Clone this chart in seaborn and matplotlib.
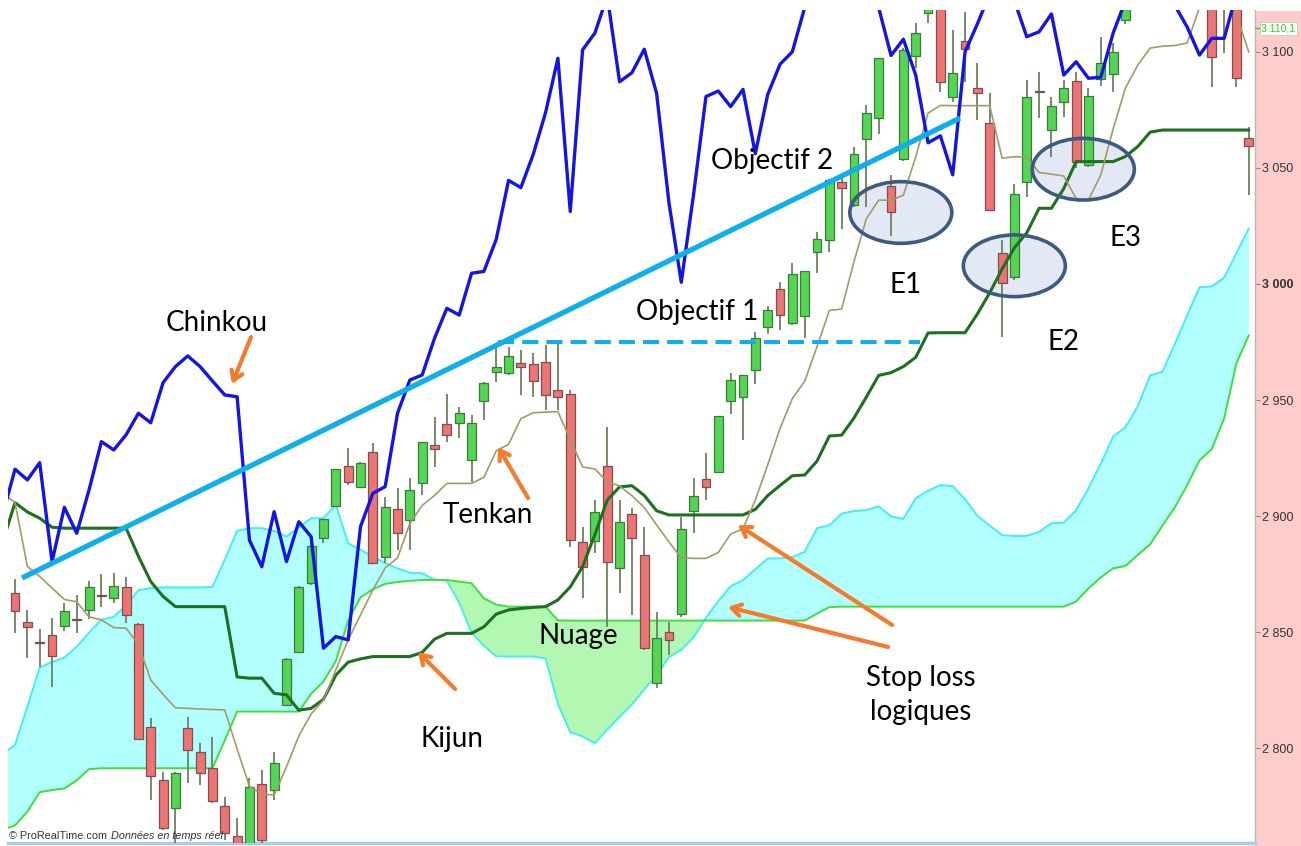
import numpy as np
import pandas as pd
import matplotlib
matplotlib.use("Agg")
import matplotlib.pyplot as plt
import seaborn as sns
from matplotlib.patches import Ellipse, Rectangle

# ---------------- data ----------------
opens = [2866.8, 2854.3, 2845.9, 2848.8, 2852.8, 2855.5, 2859.6, 2866.0, 2864.6, 2869.3,
         2853.4, 2809.3, 2786.4, 2774.2, 2808.6, 2798.3, 2791.7, 2775.2, 2762.0, 2757.0,
         2784.5, 2782.1, 2818.7, 2841.6, 2871.3, 2890.5, 2904.4, 2921.6, 2912.7, 2927.8,
         2882.5, 2903.0, 2898.3, 2914.1, 2930.6, 2939.6, 2940.2, 2924.2, 2949.7, 2962.2,
         2961.5, 2965.8, 2965.4, 2966.3, 2954.3, 2952.5, 2888.9, 2889.4, 2921.7, 2877.5,
         2900.8, 2883.3, 2828.0, 2850.2, 2857.9, 2902.3, 2915.9, 2919.1, 2949.6, 2951.5,
         2963.0, 2981.5, 2998.0, 2983.0, 2986.1, 3013.8, 3018.9, 3044.1, 3033.8, 3062.6,
         3071.5, 3042.0, 3053.8, 3098.4, 3116.8, 3126.0, 3080.7, 3104.6, 3084.3, 3069.5,
         3013.2, 3002.9, 3044.0, 3083.2, 3066.3, 3078.5, 3087.4, 3051.2, 3088.3, 3090.4,
         3113.7, 3128.0, 3135.0, 3142.0, 3138.0, 3146.0, 3140.0, 3125.0, 3122.0, 3121.0, 3062.7]
highs = [2873.0, 2859.6, 2851.3, 2856.3, 2862.5, 2866.1, 2872.1, 2875.0, 2875.6, 2873.9,
         2854.1, 2812.9, 2789.9, 2789.9, 2813.6, 2802.2, 2805.0, 2779.2, 2769.9, 2787.1,
         2790.7, 2798.6, 2838.8, 2869.8, 2887.7, 2898.8, 2920.5, 2929.5, 2923.4, 2931.4,
         2908.4, 2912.0, 2916.3, 2932.0, 2942.8, 2952.5, 2946.9, 2943.6, 2957.9, 2973.0,
         2973.0, 2971.6, 2970.1, 2973.7, 2974.4, 2954.3, 2895.5, 2907.0, 2938.5, 2907.0,
         2903.4, 2895.5, 2858.8, 2854.5, 2899.8, 2916.3, 2927.1, 2943.2, 2961.5, 2960.7,
         2979.2, 2990.7, 3000.7, 3009.2, 3005.6, 3022.3, 3045.4, 3046.9, 3059.2, 3076.9,
         3097.2, 3046.9, 3101.5, 3112.3, 3132.0, 3130.0, 3109.4, 3117.3, 3095.0, 3082.1,
         3019.0, 3043.1, 3087.9, 3091.4, 3080.7, 3087.9, 3091.4, 3084.3, 3106.5, 3103.6,
         3135.0, 3140.0, 3148.0, 3150.0, 3152.0, 3155.0, 3148.0, 3130.0, 3130.0, 3128.0, 3067.7]
lows = [2849.6, 2838.8, 2835.0, 2826.5, 2850.7, 2849.5, 2855.7, 2861.0, 2862.7, 2853.8,
        2803.6, 2777.7, 2764.8, 2758.0, 2785.0, 2784.2, 2776.3, 2760.5, 2755.0, 2755.0,
        2759.0, 2777.8, 2818.0, 2840.9, 2870.3, 2888.3, 2904.0, 2913.4, 2912.0, 2879.7,
        2879.7, 2885.4, 2885.4, 2909.1, 2921.3, 2932.1, 2933.5, 2914.8, 2941.4, 2957.9,
        2960.8, 2952.2, 2951.4, 2945.7, 2945.7, 2886.8, 2864.6, 2884.0, 2852.4, 2866.8,
        2857.4, 2842.4, 2825.8, 2840.2, 2856.7, 2892.6, 2907.0, 2919.0, 2943.8, 2933.0,
        2956.9, 2978.4, 2980.0, 2982.2, 2976.9, 3004.6, 3013.8, 3023.8, 3033.1, 3033.1,
        3064.6, 3020.7, 3053.0, 3093.1, 3112.3, 3082.8, 3078.5, 3087.1, 3070.6, 3031.9,
        2977.3, 3001.7, 3037.6, 3071.3, 3054.8, 3072.0, 3049.8, 3050.5, 3085.3, 3082.8,
        3112.0, 3122.0, 3128.0, 3130.0, 3132.0, 3135.0, 3125.0, 3084.7, 3099.3, 3084.7, 3038.3]
closes = [2859.1, 2852.4, 2845.4, 2839.7, 2859.1, 2855.2, 2869.3, 2865.6, 2869.9, 2857.4,
          2804.0, 2788.1, 2765.6, 2789.2, 2799.3, 2789.5, 2777.3, 2763.4, 2758.0, 2783.2,
          2760.5, 2793.6, 2838.4, 2869.3, 2887.3, 2898.8, 2920.2, 2914.8, 2923.0, 2879.7,
          2903.8, 2892.6, 2911.3, 2931.8, 2929.0, 2935.0, 2944.3, 2940.2, 2957.5, 2964.4,
          2969.0, 2964.4, 2958.2, 2952.2, 2951.4, 2889.7, 2878.2, 2901.7, 2880.4, 2897.6,
          2890.7, 2843.1, 2847.4, 2846.7, 2894.3, 2908.7, 2912.7, 2943.0, 2958.7, 2960.7,
          2976.9, 2988.7, 2986.6, 3004.1, 3005.4, 3019.2, 3044.6, 3041.5, 3055.8, 3073.8,
          3097.2, 3031.2, 3100.8, 3108.1, 3126.0, 3087.1, 3091.0, 3101.1, 3082.1, 3031.9,
          3000.5, 3038.7, 3080.7, 3082.8, 3076.6, 3084.3, 3052.4, 3081.1, 3095.0, 3100.0,
          3128.0, 3135.0, 3142.0, 3138.0, 3146.0, 3140.0, 3130.0, 3097.9, 3128.0, 3088.8, 3059.4]

# indicator lines, period -1 .. 100
tenkan = [2910.0,
          2905.8, 2878.3, 2874.0, 2869.0, 2864.1, 2863.1, 2856.6, 2855.3, 2852.0, 2851.7,
          2844.7, 2829.4, 2823.2, 2817.4, 2817.2, 2816.9, 2816.7, 2816.5, 2799.7, 2783.6,
          2780.3, 2779.9, 2792.0, 2805.3, 2814.8, 2820.8, 2833.7, 2846.7, 2857.4, 2868.2,
          2877.7, 2882.0, 2896.8, 2904.6, 2908.9, 2914.1, 2914.1, 2914.1, 2916.7, 2928.1,
          2930.9, 2942.0, 2944.5, 2944.8, 2945.0, 2933.0, 2921.2, 2920.3, 2914.9, 2913.0,
          2908.8, 2903.7, 2896.2, 2888.9, 2882.0, 2881.8, 2881.8, 2884.3, 2892.3, 2894.5,
          2906.9, 2922.0, 2937.7, 2950.6, 2958.1, 2973.0, 2988.6, 2989.2, 3009.7, 3028.1,
          3036.1, 3036.1, 3038.2, 3054.7, 3073.6, 3076.9, 3076.8, 3076.8, 3076.8, 3076.8,
          3054.2, 3054.8, 3054.7, 3048.0, 3047.3, 3046.5, 3036.8, 3036.2, 3046.9, 3066.7,
          3084.4, 3094.3, 3101.6, 3102.4, 3102.7, 3103.8, 3119.0, 3124.0, 3122.0, 3115.8, 3099.9]
kijun = [2889.0,
         2905.8, 2901.8, 2899.1, 2895.2, 2894.8, 2894.8, 2894.8, 2894.8, 2894.8, 2894.8,
         2882.7, 2871.8, 2865.4, 2861.0, 2861.0, 2861.0, 2861.0, 2861.0, 2830.7, 2830.2,
         2830.2, 2823.7, 2823.0, 2816.4, 2817.2, 2821.1, 2831.5, 2837.1, 2838.5, 2839.5,
         2839.5, 2839.5, 2839.5, 2841.3, 2847.0, 2849.5, 2849.5, 2849.5, 2852.3, 2857.8,
         2859.6, 2860.2, 2860.7, 2861.0, 2863.9, 2869.5, 2878.2, 2892.1, 2906.9, 2912.6,
         2913.1, 2908.9, 2902.3, 2900.5, 2900.5, 2900.5, 2900.5, 2900.5, 2900.5, 2900.5,
         2902.9, 2908.8, 2913.2, 2917.4, 2917.7, 2923.7, 2934.5, 2934.9, 2942.3, 2951.3,
         2960.6, 2961.8, 2964.4, 2968.4, 2978.9, 2979.0, 2979.0, 2979.0, 2987.1, 2996.2,
         3006.4, 3015.6, 3022.0, 3032.6, 3032.6, 3041.1, 3052.7, 3052.7, 3052.7, 3052.7,
         3054.9, 3059.2, 3065.4, 3066.3, 3066.3, 3066.3, 3066.3, 3066.3, 3066.3, 3066.3, 3066.3]
senkou_a = [2797.7,
            2801.4, 2818.0, 2834.8, 2837.1, 2839.1, 2843.8, 2849.8, 2855.4, 2856.6, 2861.5,
            2868.1, 2869.0, 2869.3, 2869.3, 2869.3, 2869.3, 2869.5, 2881.2, 2893.6, 2894.8,
            2894.8, 2893.6, 2891.2, 2895.1, 2899.1, 2899.1, 2905.0, 2888.3, 2885.5, 2882.6,
            2879.7, 2877.5, 2875.6, 2875.4, 2872.6, 2872.2, 2862.7, 2849.8, 2844.1, 2839.6,
            2839.5, 2839.5, 2839.5, 2838.7, 2819.2, 2806.9, 2805.1, 2802.2, 2808.1, 2813.5,
            2818.9, 2825.3, 2831.6, 2839.3, 2842.4, 2847.8, 2856.2, 2863.4, 2869.8, 2872.4,
            2877.1, 2881.7, 2881.8, 2882.4, 2884.6, 2894.8, 2896.1, 2901.1, 2902.2, 2902.6,
            2904.2, 2899.9, 2898.8, 2907.7, 2910.9, 2913.4, 2912.9, 2907.3, 2900.2, 2895.9,
            2891.8, 2891.4, 2891.5, 2893.2, 2896.9, 2897.2, 2902.5, 2912.0, 2922.5, 2934.2,
            2938.3, 2947.3, 2960.6, 2962.2, 2974.1, 2986.5, 2998.6, 2998.9, 3002.7, 3013.3, 3023.9]
senkou_b = [2764.9,
            2766.8, 2772.7, 2781.1, 2782.0, 2782.7, 2786.2, 2791.0, 2791.4, 2791.4, 2791.4,
            2791.4, 2791.4, 2791.4, 2791.4, 2791.4, 2791.4, 2791.4, 2803.4, 2815.8, 2815.8,
            2815.8, 2815.8, 2815.8, 2815.8, 2823.5, 2828.8, 2837.5, 2855.0, 2865.0, 2868.5,
            2870.8, 2871.6, 2872.1, 2872.5, 2872.5, 2872.5, 2871.8, 2871.1, 2864.6, 2861.9,
            2861.0, 2861.0, 2861.0, 2861.0, 2855.1, 2855.0, 2855.0, 2855.0, 2855.0, 2855.0,
            2855.0, 2855.0, 2855.0, 2855.0, 2855.0, 2855.0, 2855.0, 2855.0, 2855.0, 2855.0,
            2855.0, 2855.0, 2855.0, 2855.0, 2855.0, 2858.0, 2860.8, 2861.0, 2861.0, 2861.0,
            2861.0, 2861.0, 2861.0, 2861.0, 2861.0, 2861.0, 2861.0, 2861.0, 2861.0, 2861.0,
            2861.0, 2861.0, 2861.0, 2861.0, 2861.0, 2861.0, 2863.2, 2868.8, 2873.6, 2877.5,
            2878.5, 2883.3, 2887.8, 2895.9, 2903.8, 2913.3, 2924.0, 2928.9, 2942.1, 2965.9, 2977.9]
# chinkou, period -1 .. 99
chinkou = [2900.7,
           2920.2, 2915.6, 2923.0, 2880.4, 2903.8, 2892.6, 2911.3, 2932.1, 2928.5, 2935.0,
           2944.3, 2940.2, 2957.5, 2964.4, 2969.0, 2964.4, 2958.2, 2952.2, 2951.4, 2889.7,
           2878.2, 2901.9, 2880.4, 2897.6, 2891.1, 2843.1, 2848.1, 2846.7, 2895.5, 2909.8,
           2912.7, 2944.3, 2958.6, 2960.8, 2976.6, 2989.5, 2986.6, 3004.6, 3005.4, 3019.2,
           3044.6, 3041.5, 3055.8, 3073.8, 3097.2, 3031.2, 3100.8, 3108.1, 3124.0, 3087.1,
           3091.0, 3101.1, 3082.1, 3035.0, 3000.7, 3038.7, 3080.7, 3083.1, 3076.4, 3083.8,
           3056.1, 3081.5, 3094.6, 3100.0, 3119.0, 3125.0, 3128.0, 3130.0, 3128.0, 3124.0,
           3119.0, 3098.4, 3105.4, 3090.0, 3060.8, 3063.8, 3047.0, 3100.0, 3112.0, 3125.0,
           3128.0, 3122.0, 3106.5, 3108.6, 3116.3, 3090.0, 3095.7, 3088.6, 3089.0, 3108.0,
           3122.0, 3128.0, 3130.0, 3128.0, 3120.0, 3110.7, 3098.6, 3105.8, 3105.8, 3125.0]

price_ticks = [2800, 2850, 2900, 2950, 3000, 3050, 3100]
last_price = 3110.1
last_price_label = "3 110,1"

# ---------------- styling ----------------
sns.set_theme(style="white")
plt.rcParams['font.family'] = ['Lato', 'DejaVu Sans']
NARROW = ['Liberation Sans Narrow', 'Liberation Sans', 'DejaVu Sans']

W, H = 1301, 846
fig = plt.figure(figsize=(W / 100, H / 100), dpi=100)
fig.patch.set_facecolor('white')
# pink price-scale panel (behind the axes and its labels)
fig.patches.append(Rectangle((1255 / W, 0), 1 - 1255 / W, (H - 11) / H,
                             transform=fig.transFigure, facecolor='#FFCCCC',
                             edgecolor='none', zorder=-5))
ax = fig.add_axes([8 / W, 3 / H, (1255 - 8) / W, (843 - 10) / H])
ax.set_facecolor('white')
ax.set_xlim(-0.57, 100.5)
ax.set_ylim(2759.2, 3118.0)


def P(px, py):
    """convert a reference-picture pixel position to data coordinates"""
    return ((px - 15) / 12.338, 3122.3 - 0.4307 * py)


lx = np.arange(-1, 101)
cx = np.arange(len(opens))
sa = np.array(senkou_a)
sb = np.array(senkou_b)

# cloud
ax.fill_between(lx, sa, sb, where=sa >= sb, interpolate=True,
                color='#B2FFFF', lw=0, zorder=1)
ax.fill_between(lx, sa, sb, where=sb > sa, interpolate=True,
                color='#B2F8B2', lw=0, zorder=1)
sns.lineplot(x=lx, y=sa, ax=ax, color='#45EEEE', lw=1.4, zorder=2)
sns.lineplot(x=lx, y=sb, ax=ax, color='#3BE03B', lw=1.4, zorder=2)

# ellipse fills E1, E2, E3 (behind the candles)
ell_centres = [(900.8, 212.5), (1014.3, 265.8), (1083.3, 169.2)]
for (ex, ey) in ell_centres:
    ax.add_patch(Ellipse(P(ex, ey), 102 / 12.338, 61.7 * 0.4307, facecolor='#E3E9F4',
                         edgecolor='none', zorder=2.5))

# candles
o = np.array(opens); c = np.array(closes); h = np.array(highs); l = np.array(lows)
up = c >= o
ax.vlines(cx, l, h, color='#6F8060', lw=1.3, zorder=3)
ax.bar(cx[up], (c - o)[up], bottom=o[up], width=0.72, color='#55D555',
       edgecolor='#3C7A3C', lw=0.9, zorder=4)
ax.bar(cx[~up], np.maximum((o - c)[~up], 0.5), bottom=c[~up], width=0.72,
       color='#EE7474', edgecolor='#7A5050', lw=0.9, zorder=4)

# ichimoku lines
sns.lineplot(x=lx, y=kijun, ax=ax, color='#1E6F1E', lw=2.2, zorder=5)
sns.lineplot(x=lx, y=tenkan, ax=ax, color='#A39A6A', lw=1.2, zorder=5)
sns.lineplot(x=np.arange(-1, 100), y=chinkou, ax=ax, color='#1515E0', lw=2.4, zorder=6)

# ellipse outlines
for (ex, ey) in ell_centres:
    ax.add_patch(Ellipse(P(ex, ey), 102 / 12.338, 61.7 * 0.4307, facecolor='none',
                         edgecolor='#3E5A80', lw=2.6, zorder=9))

# trend line and objective line
blue_ann = '#10AEEA'
(x0, y0), (x1, y1) = P(22, 578), P(960, 118)
ax.plot([x0, x1], [y0, y1], color=blue_ann, lw=3.8, solid_capstyle='butt', zorder=8)
(x0, y0), (x1, y1) = P(498, 342), P(920, 342)
ax.plot([x0, x1], [y0, y1], color=blue_ann, lw=2.9, linestyle=(0, (4, 2)),
        dash_capstyle='butt', zorder=8)

# orange arrows
orange = '#F47A2C'
for tail, head in [((251, 337), (232, 384)), ((528, 498), (498, 447)),
                   ((455, 689), (418, 652)), ((892, 625), (738, 525)),
                   ((888, 647), (728, 607))]:
    ax.annotate('', xy=P(*head), xytext=P(*tail),
                arrowprops=dict(arrowstyle='->,head_length=0.55,head_width=0.35',
                                color=orange, lw=3.0, shrinkA=0, shrinkB=0),
                zorder=10)

# labels
lab_kw = dict(fontsize=20, color='black', ha='center', va='baseline',
              family=['Lato', 'DejaVu Sans'], zorder=11)
for txt, px, py in [("Chinkou", 217, 331), ("Tenkan", 488, 523), ("Kijun", 452, 747),
                    ("Nuage", 578, 644), ("Objectif 2", 772, 169), ("Objectif 1", 697, 320),
                    ("E1", 906, 293), ("E2", 1063, 350), ("E3", 1125, 246),
                    ("Stop loss", 921, 686), ("logiques", 921, 720)]:
    ax.text(*P(px, py), txt, **lab_kw)

# price axis on the right
ax.yaxis.tick_right()
ax.set_yticks(price_ticks)
ax.set_yticklabels([f"{v:,}".replace(",", " ") for v in price_ticks])
ax.tick_params(axis='y', direction='out', length=3.5, width=0.8, color='#8A8A8A',
               labelsize=9, labelcolor='#333333', pad=1.5)
for t in ax.get_yticklabels():
    t.set_family(NARROW)
    t.set_stretch('condensed')
    if t.get_text() == "3 000":
        t.set_fontweight('bold')
ax.set_xticks([])
for s in ['top', 'left']:
    ax.spines[s].set_visible(False)
ax.spines['right'].set_color('#B8B8B8')
ax.spines['right'].set_linewidth(1.0)
ax.spines['bottom'].set_color('#A8CCEE')
ax.spines['bottom'].set_linewidth(2.5)

# last price tag
ax.plot([1.0, 1.004], [last_price, last_price], transform=ax.get_yaxis_transform(),
        color='#33CC33', lw=1.0, clip_on=False, zorder=12)
ax.text(1.0052, last_price, last_price_label, transform=ax.get_yaxis_transform(),
        fontsize=7.5, color='#33CC33', ha='left', va='center', family=NARROW,
        fontstretch='condensed',
        bbox=dict(boxstyle='square,pad=0.12', facecolor='#FAFFFA', edgecolor='#C8C8C8', lw=0.6),
        clip_on=False, zorder=12)

# copyright footer
t1 = fig.text(9 / W, (H - 839) / H, "© ProRealTime.com", fontsize=7.8, color='#333333',
              family=NARROW, fontstretch='condensed', ha='left', va='baseline')
fig.canvas.draw()
bb = t1.get_window_extent(renderer=fig.canvas.get_renderer())
fig.text((bb.x1 + 4) / W, (H - 839) / H, "Données en temps réel", fontsize=7.8,
         color='#333333', style='italic', family=NARROW, fontstretch='condensed',
         ha='left', va='baseline')

fig.savefig("out.png", dpi=100)
